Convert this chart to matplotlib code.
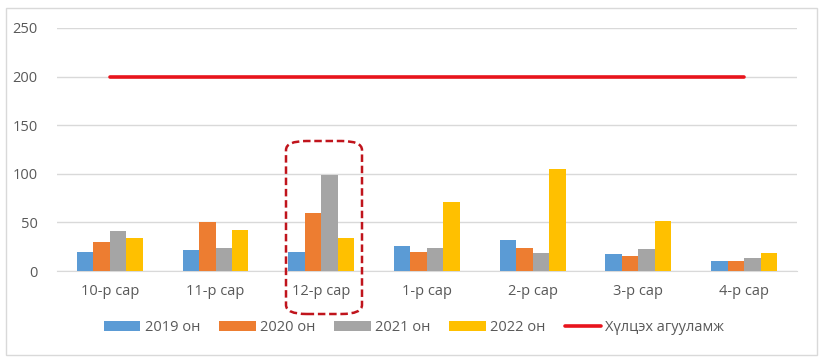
import numpy as np
import matplotlib
matplotlib.use("Agg")
import matplotlib.pyplot as plt
from matplotlib.patches import FancyBboxPatch, Rectangle

plt.rcParams['font.family'] = ['Open Sans', 'DejaVu Sans']

months = ['10-р сар', '11-р сар', '12-р сар', '1-р сар', '2-р сар', '3-р сар', '4-р сар']
y2019 = [20, 21.5, 20, 25.5, 31.5, 17, 10]
y2020 = [30, 50, 59.5, 20, 24, 15.5, 10]
y2021 = [41, 24, 99, 24, 18.5, 23, 13]
y2022 = [34, 42.5, 34, 71, 104.5, 51, 18.5]
limit = [200, 200, 200, 200, 200, 200, 200]

series = [('2019 он', y2019, '#5B9BD5'),
          ('2020 он', y2020, '#ED7D31'),
          ('2021 он', y2021, '#A5A5A5'),
          ('2022 он', y2022, '#FFC000')]

fig = plt.figure(figsize=(8.25, 3.63), dpi=100)
ax = fig.add_axes([0.069, 0.2534, 0.897, 0.6695])

x = np.arange(len(months))
w = 0.156
handles = []
for i, (name, vals, col) in enumerate(series):
    b = ax.bar(x + (i - 1.5) * w, vals, width=w, color=col, label=name, zorder=3)
    handles.append(b)
ln, = ax.plot(x, limit, color='#E8141C', lw=2.6, label='Хүлцэх агууламж', zorder=4,
              solid_capstyle='round')
handles.append(ln)

ax.set_xlim(-0.5, len(months) - 0.5)
ax.set_ylim(0, 250)
ax.set_yticks(range(0, 251, 50))
ax.set_xticks(x)
ax.set_xticklabels(months)
ax.grid(axis='y', color='#D9D9D9', lw=1, zorder=0)
for s in ['top', 'right', 'left']:
    ax.spines[s].set_visible(False)
ax.spines['bottom'].set_color('#D9D9D9')
ax.tick_params(length=0, colors='#595959', labelsize=10.5)
ax.tick_params(axis='x', pad=9)
ax.tick_params(axis='y', pad=14)

leg = ax.legend(handles=handles, loc='center', bbox_to_anchor=(0.502, 0.097),
                bbox_transform=fig.transFigure,
                ncol=5, frameon=False, fontsize=10.5, handlelength=2.5, handleheight=0.7,
                columnspacing=1.3, handletextpad=0.3, labelcolor='#595959')

# outer chart border
fig.patches.append(Rectangle((6 / 825, 1 - 355 / 363), 811 / 825, 347 / 363,
                             transform=fig.transFigure, fill=False,
                             edgecolor='#D9D9D9', lw=1))

# highlight box around 12-р сар
fig.patches.append(FancyBboxPatch((286 / 825, 1 - 314 / 363), 76 / 825, 173 / 363,
                                  boxstyle='round,pad=0,rounding_size=0.025',
                                  transform=fig.transFigure, fill=False,
                                  edgecolor='#C0141C', lw=1.8, ls=(0, (3, 1.5)),
                                  zorder=10))

fig.savefig('out.png', dpi=100)
